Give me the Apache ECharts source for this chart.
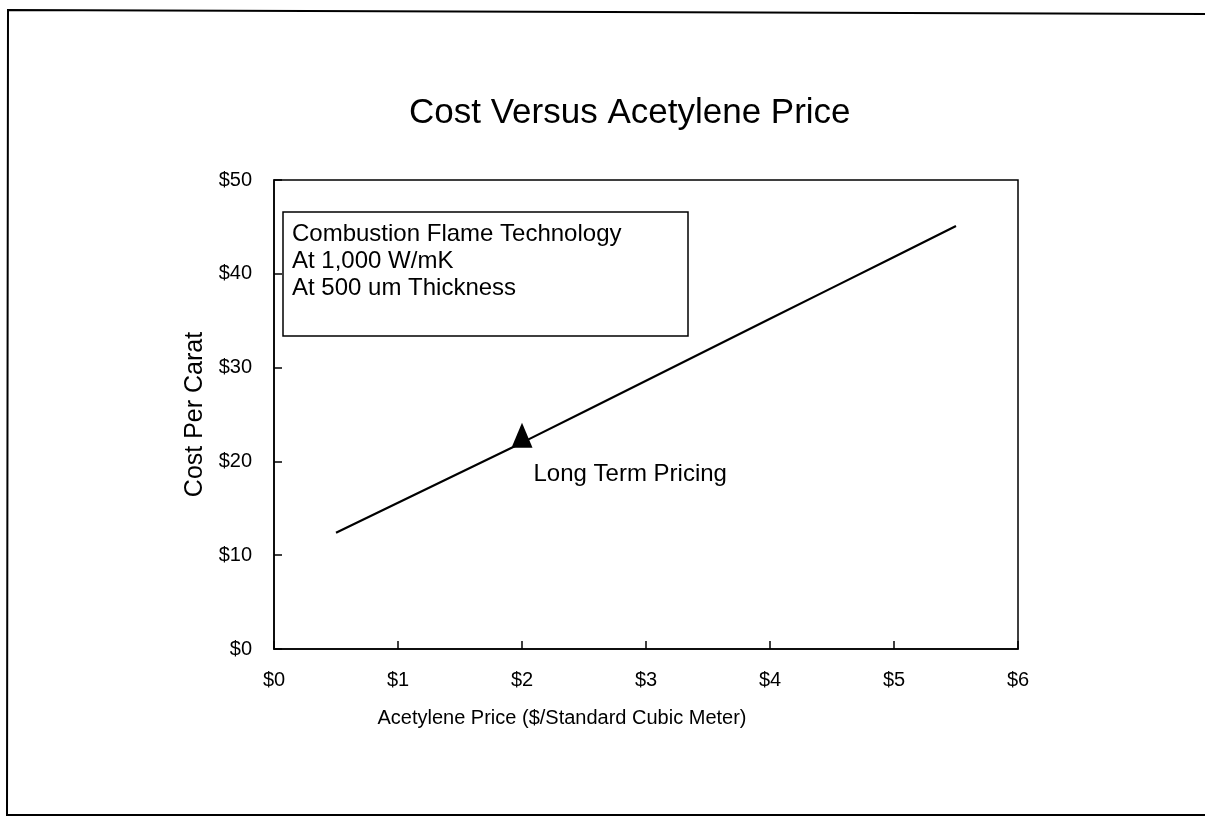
<!DOCTYPE html>
<html>
<head>
<meta charset="utf-8">
<script src="https://cdn.jsdelivr.net/npm/echarts@6/dist/echarts.min.js"></script>
<style>
    html, body {margin: 0; padding: 0; background: #fff;}
    #chart {width: 1205px; height: 817px;}
</style>
</head>
<body>
<div id="chart"></div>
<script>
"use strict";
// values
var priceValues = [0.5, 1.0, 1.5, 2.0, 2.5, 3.0, 3.5, 4.0, 4.5, 5.0, 5.5];
var costValues = [12.4, 15.6, 18.8, 22.0, 25.3, 28.6, 31.9, 35.2, 38.5, 41.8, 45.1];
var longTermPoint = [2.0, 22.8];
var noteLines = ["Combustion Flame Technology", "At 1,000 W/mK", "At 500 um Thickness"];

var font = "'Liberation Sans', Arial, Helvetica, sans-serif";

var lineData = [];
priceValues.forEach(function (p, i) {
    lineData.push([p, costValues[i]]);
});

var chart = echarts.init(document.getElementById("chart"));
var option = {
    backgroundColor: "#fff",
    animation: false,
    textStyle: {fontFamily: font, color: "#000"},
    title: {
        text: "Cost Versus Acetylene Price",
        left: 404, top: 91,
        textStyle: {fontFamily: font, fontSize: 35, fontWeight: "normal", color: "#000"}
    },
    grid: {left: 274, right: 187, top: 180, bottom: 168, show: true, borderColor: "#000", borderWidth: 1.5, backgroundColor: "transparent"},
    xAxis: {
        type: "value", min: 0, max: 6, interval: 1,
        name: "Acetylene Price ($/Standard Cubic Meter)",
        nameLocation: "middle", nameGap: 59,
        nameTextStyle: {fontFamily: font, fontSize: 20, color: "#000", padding: [0, 168, 0, 0]},
        axisLine: {show: true, lineStyle: {color: "#000", width: 1.5}},
        axisTick: {show: true, inside: true, length: 8, lineStyle: {color: "#000", width: 1.5}},
        axisLabel: {fontFamily: font, fontSize: 20, color: "#000", margin: 21, formatter: function (v) { return "$" + v; }},
        splitLine: {show: false}
    },
    yAxis: {
        type: "value", min: 0, max: 50, interval: 10,
        name: "Cost Per Carat",
        nameLocation: "middle", nameGap: 64,
        nameTextStyle: {fontFamily: font, fontSize: 25, color: "#000"},
        axisLine: {show: true, lineStyle: {color: "#000", width: 1.5}},
        axisTick: {show: true, inside: true, length: 8, lineStyle: {color: "#000", width: 1.5}},
        axisLabel: {fontFamily: font, fontSize: 20, color: "#000", margin: 22, formatter: function (v) { return "$" + v; }},
        splitLine: {show: false}
    },
    series: [
        {
            name: "Cost", type: "line", data: lineData, symbol: "none", smooth: false,
            lineStyle: {color: "#000", width: 2.2}
        },
        {
            name: "Long Term Pricing", type: "scatter", data: [longTermPoint],
            symbol: "triangle", symbolSize: [21, 25],
            itemStyle: {color: "#000", opacity: 1},
            label: {
                show: true, position: [22, 52], verticalAlign: "middle", align: "left",
                formatter: "Long Term Pricing",
                fontFamily: font, fontSize: 24, color: "#000"
            },
            z: 3
        }
    ],
    graphic: [
        {
            type: "polyline", silent: true,
            shape: {points: [[1205, 14], [8, 10], [7, 815], [1205, 815]]},
            style: {stroke: "#000", lineWidth: 2, fill: null}
        },
        {
            type: "rect", silent: true,
            shape: {x: 283, y: 212, width: 405, height: 124},
            style: {stroke: "#000", lineWidth: 1.5, fill: "#fff"}
        },
        {
            type: "text", silent: true, left: 292, top: 221,
            style: {text: noteLines.join("\n"), font: "24px " + font, lineHeight: 27, fill: "#000"}
        }
    ]
};
chart.setOption(option);
</script>
</body>
</html>
